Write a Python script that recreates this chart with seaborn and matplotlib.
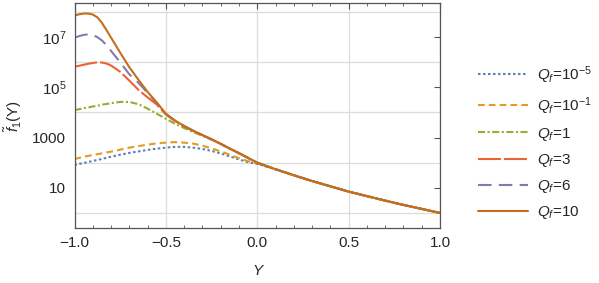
import numpy as np
import pandas as pd
import matplotlib
matplotlib.use('Agg')
import matplotlib.pyplot as plt
from matplotlib.ticker import NullFormatter
import seaborn as sns

# Y grid shared by all curves
y_vals = [-1, -0.975, -0.95, -0.925, -0.9, -0.875, -0.85, -0.825, -0.8,
          -0.75, -0.7, -0.65, -0.6, -0.55, -0.5, -0.45, -0.4, -0.35, -0.3,
          -0.25, -0.2, -0.15, -0.1, -0.05, 0, 0.1, 0.2, 0.3, 0.4, 0.5, 0.6,
          0.7, 0.8, 0.9, 1.0]

# common tail for Y > 0 (log10 f)
tail = [1.74, 1.50, 1.27, 1.06, 0.85, 0.67, 0.49, 0.32, 0.16, 0.0]

# log10 of f1
log_q1e5 = [1.90, 1.95, 1.99, 2.03, 2.07, 2.11, 2.15, 2.20, 2.24, 2.32, 2.39, 2.45,
            2.51, 2.56, 2.60, 2.63, 2.63, 2.60, 2.55, 2.47, 2.37, 2.25, 2.13, 2.02,
            1.95] + tail
log_q1e1 = [2.15, 2.19, 2.24, 2.27, 2.31, 2.34, 2.37, 2.41, 2.44, 2.52, 2.60, 2.66,
            2.72, 2.77, 2.80, 2.82, 2.80, 2.76, 2.68, 2.57, 2.45, 2.32, 2.18, 2.06,
            1.98] + tail
log_q1 = [4.10, 4.13, 4.17, 4.20, 4.24, 4.27, 4.31, 4.34, 4.37, 4.42, 4.42, 4.33,
          4.15, 3.95, 3.75, 3.55, 3.38, 3.22, 3.07, 2.92, 2.75, 2.56, 2.38, 2.19,
          2.00] + tail
log_q3 = [5.82, 5.86, 5.90, 5.94, 5.97, 6.00, 5.99, 5.95, 5.87, 5.62, 5.27, 4.90,
          4.60, 4.32, 3.92, 3.66, 3.45, 3.27, 3.10, 2.93, 2.75, 2.56, 2.38, 2.19,
          2.00] + tail
log_q6 = [6.98, 7.04, 7.09, 7.11, 7.09, 7.00, 6.87, 6.68, 6.45, 6.00, 5.52, 5.18,
          4.78, 4.38, 3.94, 3.67, 3.46, 3.27, 3.10, 2.93, 2.75, 2.56, 2.38, 2.19,
          2.00] + tail
log_q10 = [7.86, 7.91, 7.94, 7.94, 7.90, 7.79, 7.57, 7.28, 6.98, 6.38, 5.80, 5.30,
           4.82, 4.40, 3.95, 3.68, 3.46, 3.27, 3.10, 2.93, 2.75, 2.56, 2.38, 2.19,
           2.00] + tail

labels = [r'$\mathit{Q_f}$=10$^{-5}$', r'$\mathit{Q_f}$=10$^{-1}$', r'$\mathit{Q_f}$=1',
          r'$\mathit{Q_f}$=3', r'$\mathit{Q_f}$=6', r'$\mathit{Q_f}$=10']
series = [log_q1e5, log_q1e1, log_q1, log_q3, log_q6, log_q10]
colors = ['#5E81B5', '#E19C24', '#8FB032', '#EB6235', '#8778B3', '#C56E1A']
styles = [(0, (1.2, 1.2)), (0, (3.2, 2.0)), (0, (3.4, 1.2, 1.0, 1.2)),
          (0, (11, 1.5)), (0, (6.5, 3.5)), '-']

sns.set_theme(style='white')
plt.rcParams['font.family'] = ['Liberation Sans', 'DejaVu Sans']
plt.rcParams['mathtext.fontset'] = 'custom'
plt.rcParams['mathtext.rm'] = 'Liberation Sans'
plt.rcParams['mathtext.it'] = 'Liberation Sans:italic'
plt.rcParams['mathtext.default'] = 'regular'

fig = plt.figure(figsize=(5.99, 2.83), dpi=100)
ax = fig.add_axes([0.1244, 0.1943, 0.6102, 0.7951])

for lab, vals, c, ls in zip(labels, series, colors, styles):
    df = pd.DataFrame({'Y': y_vals, 'f': np.power(10.0, vals)})
    sns.lineplot(data=df, x='Y', y='f', ax=ax, color=c, linestyle=ls,
                 linewidth=1.5, label=lab)

ax.set_yscale('log')
ax.set_xlim(-1, 1)
ax.set_ylim(10 ** -0.6, 10 ** 8.36)

ax.set_xticks([-1.0, -0.5, 0.0, 0.5, 1.0])
ax.set_xticklabels(['\u22121.0', '\u22120.5', '0.0', '0.5', '1.0'])
ax.set_xticks(np.arange(-0.9, 1.0, 0.1), minor=True)
ax.set_yticks([10, 1e3, 1e5, 1e7])
ax.set_yticklabels(['10', '1000', '10$^5$', '10$^7$'])
ax.set_yticks([1, 1e2, 1e4, 1e6, 1e8], minor=True)
ax.yaxis.set_minor_formatter(NullFormatter())

ax.tick_params(axis='both', which='major', direction='in', length=4, width=0.8,
               color='#555555', labelsize=11, top=True, right=True, pad=6)
ax.tick_params(axis='x', which='minor', direction='in', length=2.5, width=0.6,
               color='#555555', top=True, bottom=True)
ax.tick_params(axis='y', which='minor', length=0)

ax.grid(False)
ax.xaxis.grid(True, which='major', color='#dcdcdc', linewidth=0.9)
ax.yaxis.grid(True, which='minor', color='#dcdcdc', linewidth=0.9)
for s in ax.spines.values():
    s.set_color('#555555')
    s.set_linewidth(0.9)

ax.set_xlabel('Y', fontstyle='italic', fontsize=11, labelpad=10)
ax.set_ylabel(r'$\mathit{\tilde{f}}_1$(Y)', fontsize=11, labelpad=6)

ax.legend(loc='upper left', bbox_to_anchor=(0.785, 0.80),
          bbox_transform=fig.transFigure, frameon=False, fontsize=11,
          handlelength=3.3, handletextpad=0.6, labelspacing=0.6,
          borderpad=0)

fig.savefig('out.png', dpi=100)
